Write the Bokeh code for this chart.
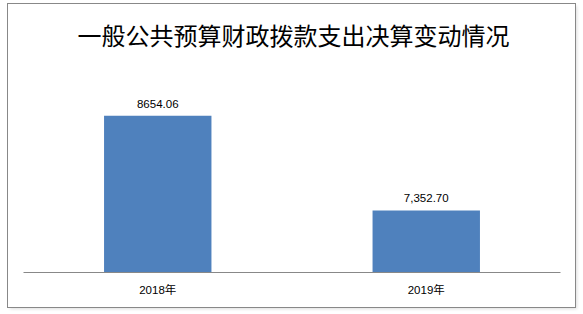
from bokeh.plotting import figure
from bokeh.layouts import column
from bokeh.models import Range1d, ColumnDataSource, LabelSet
from bokeh.core.properties import value
from bokeh.embed import file_html
from bokeh.resources import INLINE

title_text = "一般公共预算财政拨款支出决算变动情况"
years = ["2018年", "2019年"]
values = [8654.06, 7352.70]
value_labels = ["8654.06", "7,352.70"]

src = ColumnDataSource(dict(x=years, top=values, lab=value_labels))

# title strip
t = figure(x_range=Range1d(0, 1), y_range=Range1d(0, 1), width=567, height=86,
           output_backend="svg", toolbar_location=None,
           min_border_left=0, min_border_right=0, min_border_top=0, min_border_bottom=0)
t.axis.visible = False
t.grid.visible = False
t.outline_line_color = None
t.text(x=[0.503], y=[0.655], text=[title_text], text_align="center", text_baseline="middle",
       text_font=value("Noto Sans CJK SC"), text_font_size=value("24px"), text_color="#000000")

# chart
p = figure(x_range=years, y_range=Range1d(6500, 9000), width=567, height=217,
           output_backend="svg", toolbar_location=None,
           min_border_left=15, min_border_right=15, min_border_top=0, min_border_bottom=35)
p.outline_line_color = None
p.xgrid.visible = False
p.ygrid.visible = False
p.yaxis.visible = False
p.x_range.range_padding = 0
p.xaxis.axis_line_color = "#888888"
p.xaxis.major_tick_line_color = None
p.xaxis.minor_tick_line_color = None
p.xaxis.major_label_text_font = "Liberation Sans, Noto Sans CJK SC"
p.xaxis.major_label_text_font_size = "11.5px"
p.xaxis.major_label_text_color = "#000000"
p.xaxis.major_label_standoff = 5

p.vbar(x="x", top="top", bottom=6500, width=0.4, source=src, fill_color="#4F81BD", line_color=None)

p.add_layout(LabelSet(x="x", y="top", text="lab", source=src, text_align="center",
                      text_baseline="bottom", y_offset=8, text_font=value("Liberation Sans"),
                      text_font_size=value("11.5px"), text_color="#000000"))

lay = column(t, p, spacing=0)
lay.margin = (4, 0, 0, 8)
lay.styles = {"outline": "1px solid #888888", "box-shadow": "2px 2px 3px #dddddd"}

open("out.html", "w").write(file_html(lay, INLINE))
